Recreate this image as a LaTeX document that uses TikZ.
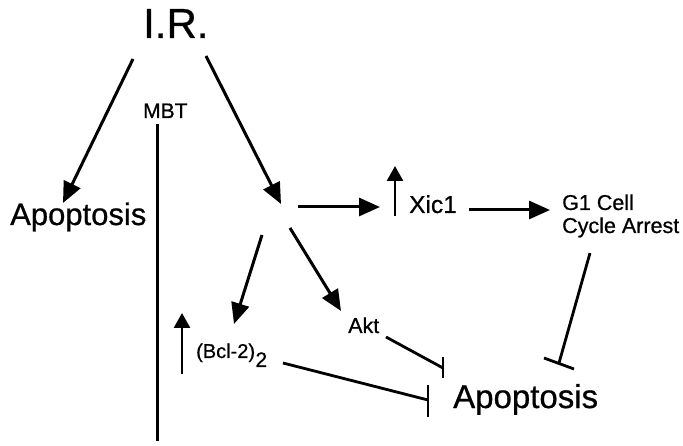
\documentclass[tikz,border=0pt]{standalone}
\usepackage{fontspec}
\setmainfont{Liberation Sans}[FakeBold=0.7]
\usetikzlibrary{arrows.meta,calc}
\begin{document}
\begin{tikzpicture}[x=1pt,y=-1pt,
  lbl/.style={inner sep=0pt,anchor=base west},
  act/.style={line width=3pt,-{Triangle[length=21pt,width=18pt]}},
  upar/.style={line width=2.7pt,-{Triangle[length=15pt,width=16pt]}},
  inh/.style={line width=2.8pt},
  barln/.style={line width=2.8pt}]
\useasboundingbox (0,0) rectangle (683,446);
% texts
\node[lbl,font=\fontsize{42}{42}\selectfont] (ir) at (143,38) {I.R.};
\node[lbl,font=\fontsize{21}{21}\selectfont] (mbt) at (143,118) {MBT};
\node[lbl,font=\fontsize{31}{31}\selectfont] (apl) at (10,225) {Apoptosis};
\node[lbl,font=\fontsize{24.5}{24.5}\selectfont] (xic) at (409,213) {Xic1};
\node[lbl,font=\fontsize{21.5}{21.5}\selectfont] (g1a) at (562,210) {G1 Cell};
\node[lbl,font=\fontsize{21.5}{21.5}\selectfont] (g1b) at (562,233) {Cycle Arrest};
\node[lbl,font=\fontsize{21.5}{21.5}\selectfont] (akt) at (348,333) {Akt};
\node[lbl,font=\fontsize{20}{20}\selectfont] (bcl) at (196,358) {(Bcl-2)};
\node[lbl,font=\fontsize{21}{21}\selectfont,anchor=base west] (bcls) at (bcl.base east) {\raisebox{-9pt}{2}};
\node[lbl,font=\fontsize{33}{33}\selectfont] (apb) at (453,408) {Apoptosis};
% endpoints
\coordinate (irL) at (133,59);
\coordinate (irR) at (206,56);
\coordinate (aplT) at (63,203);
\coordinate (cTip) at (281,204);
\coordinate (cXs) at (298,207);
\coordinate (xicT) at (380,207);
\coordinate (cBs) at (262,235);
\coordinate (bclT) at (234,324);
\coordinate (cAs) at (290,228);
\coordinate (aktT) at (341,311);
\coordinate (mbtS) at (157.5,124);
\coordinate (mbtE) at (157.5,441);
\coordinate (xupB) at (395,216);
\coordinate (xupT) at (395,166);
\coordinate (xicS) at (469,210);
\coordinate (g1T) at (550,210);
\coordinate (bupB) at (182,374);
\coordinate (bupT) at (182,313);
\coordinate (aktS) at (386,337);
\coordinate (aktE) at (443,368);
\coordinate (bclS) at (283,363);
\coordinate (bclE) at (428,400);
\coordinate (g1S) at (590,253);
\coordinate (g1E) at (559,363);
% activations
\draw[act] (irL) -- (aplT);
\draw[act] (irR) -- (cTip);
\draw[act] (cXs) -- (xicT);
\draw[act] (cBs) -- (bclT);
\draw[act] (cAs) -- (aktT);
\draw[act] (xicS) -- (g1T);
\draw[upar] (xupB) -- (xupT);
\draw[upar] (bupB) -- (bupT);
% MBT line
\draw[line width=2.4pt] (mbtS) -- (mbtE);
% inhibitions
\draw[inh] (aktS) -- (aktE);
\draw[barln] ([yshift=-10pt]aktE) -- ([yshift=11pt]aktE);
\draw[inh] (bclS) -- (bclE);
\draw[barln] ([yshift=-17pt]bclE) -- ([yshift=15pt]bclE);
\draw[inh] (g1S) -- (g1E);
\draw[barln] ($(g1E)+(-15,-5)$) -- ($(g1E)+(15,6)$);
\end{tikzpicture}
\end{document}
